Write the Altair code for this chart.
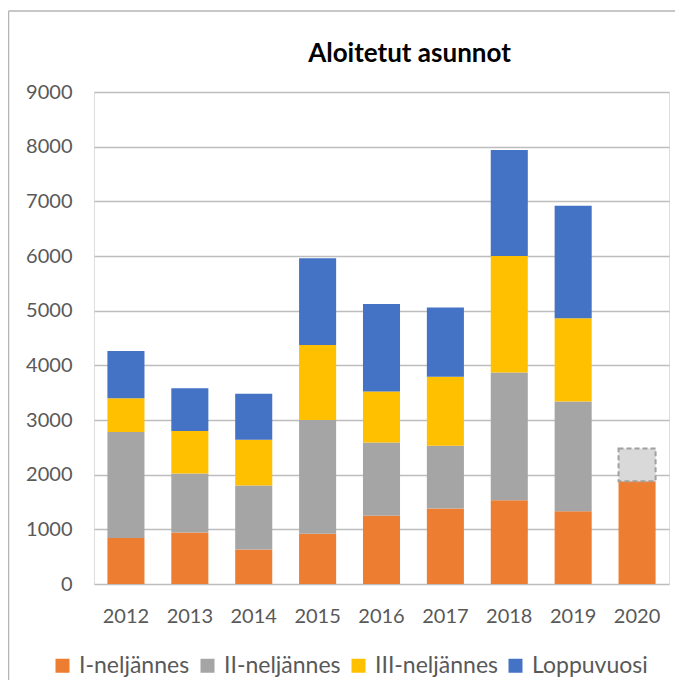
import altair as alt
import pandas as pd

years = ["2012", "2013", "2014", "2015", "2016", "2017", "2018", "2019", "2020"]
series = ["I-neljännes", "II-neljännes", "III-neljännes", "Loppuvuosi"]
colors = ["#ED7D31", "#A5A5A5", "#FFC000", "#4472C4"]

q1 = [840, 940, 630, 920, 1250, 1380, 1530, 1330, 1880]
q2 = [1940, 1080, 1170, 2080, 1340, 1150, 2340, 2010, None]
q3 = [620, 780, 840, 1370, 930, 1260, 2130, 1520, None]
q4 = [860, 780, 840, 1590, 1600, 1270, 1940, 2060, None]

estimate_year = "2020"
estimate_total = 2480

rows = []
for si, (name, vals) in enumerate(zip(series, [q1, q2, q3, q4])):
    for y, v in zip(years, vals):
        if v is not None:
            rows.append({"year": y, "series": name, "value": v, "order": si})
df = pd.DataFrame(rows)

est_df = pd.DataFrame([{
    "year": estimate_year,
    "low": q1[years.index(estimate_year)],
    "high": estimate_total,
}])

W, H = 575, 492
FONT = "Lato"

x_enc = alt.X("year:N", sort=years, title=None,
              scale=alt.Scale(paddingInner=0.42, paddingOuter=0.21),
              axis=alt.Axis(labelAngle=0, domain=False, ticks=False, grid=False,
                            labelFontSize=20, labelColor="#595959", labelFont=FONT,
                            labelPadding=22))

bars = alt.Chart(df).mark_bar().encode(
    x=x_enc,
    y=alt.Y("value:Q", stack="zero", title=None,
            scale=alt.Scale(domain=[0, 9000], nice=False),
            axis=alt.Axis(values=list(range(0, 9001, 1000)), format="d",
                          domain=False, ticks=False,
                          gridColor="#BDBDBD", gridWidth=1.5, labelFontSize=20,
                          labelColor="#595959", labelFont=FONT, labelPadding=22)),
    color=alt.Color("series:N", sort=series,
                    scale=alt.Scale(domain=series, range=colors),
                    legend=alt.Legend(title=None, orient="none", direction="horizontal",
                                      legendX=-43, legendY=562, symbolType="square",
                                      symbolSize=196, symbolStrokeWidth=0,
                                      labelFontSize=23, labelFont=FONT,
                                      labelColor="#595959", labelOffset=5,
                                      columnPadding=6, padding=0)),
    order=alt.Order("order:Q"),
)

est = alt.Chart(est_df).mark_bar(fill="#D9D9D9", stroke="#A0A0A0", strokeWidth=2,
                                 strokeDash=[5, 3]).encode(
    x=alt.X("year:N", sort=years),
    y=alt.Y("low:Q"),
    y2="high:Q",
)

frame_left = alt.Chart(est_df).mark_rule(color="#B5B5B5", strokeWidth=1.5).encode(
    x=alt.value(-85.5), y=alt.value(-81), y2=alt.value(H + 120))
frame_top = alt.Chart(est_df).mark_rule(color="#B5B5B5", strokeWidth=1.5).encode(
    x=alt.value(-85.5), x2=alt.value(W + 20), y=alt.value(-81))

chart = alt.layer(bars, est, frame_left, frame_top).properties(
    width=W, height=H,
    title=alt.TitleParams("Aloitetut asunnot", font=FONT, fontSize=26, fontWeight="bold",
                          color="#000000", anchor="middle", dx=28, offset=-57,
                          frame="group"),
    autosize=alt.AutoSizeParams(type="none"),
    padding={"left": 86, "top": 84, "right": 6, "bottom": 96},
).configure_view(stroke=None).configure(background="white")

chart.save("out.html", embed_options={"renderer": "svg", "actions": False})
